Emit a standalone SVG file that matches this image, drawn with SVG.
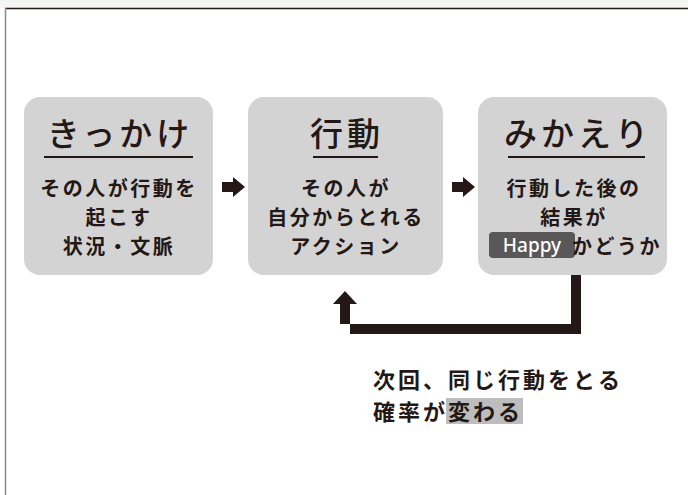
<svg xmlns="http://www.w3.org/2000/svg" width="688" height="495" viewBox="0 0 688 495">
<style>
.box{fill:#d3d3d3}
.t{font-family:"Noto Sans CJK JP","Noto Sans",sans-serif;fill:#231815;text-anchor:middle}
.title{font-size:33px;font-weight:500;letter-spacing:4px}
.body{font-size:20px;font-weight:700;letter-spacing:2.5px}
.cap{font-size:22px;font-weight:700;letter-spacing:3px;text-anchor:start}
.ul{stroke:#231815;stroke-width:2}
.conn{fill:#231815}
</style>
<rect x="0" y="0" width="688" height="8" fill="#f5f5f5"/>
<rect x="5" y="8" width="683" height="487" fill="#ffffff"/>
<line x1="5" y1="8.5" x2="688" y2="8.5" stroke="#231815" stroke-width="1.5"/>
<line x1="5.5" y1="8" x2="5.5" y2="495" stroke="#8a8a8a" stroke-width="1.5"/>

<g id="kikkake">
<rect class="box" x="24" y="97" width="189" height="178" rx="16"/>
<text class="t title" x="120" y="146">きっかけ</text>
<line class="ul" x1="44" y1="157" x2="193" y2="157"/>
<text class="t body" x="119" y="196">その人が行動を</text>
<text class="t body" x="119" y="225">起こす</text>
<text class="t body" x="119" y="254">状況・文脈</text>
</g>

<g id="koudou">
<rect class="box" x="248" y="97" width="195" height="178" rx="16"/>
<text class="t title" x="347" y="146">行動</text>
<line class="ul" x1="313" y1="157" x2="378" y2="157"/>
<text class="t body" x="346" y="196">その人が</text>
<text class="t body" x="346" y="225">自分からとれる</text>
<text class="t body" x="346" y="254">アクション</text>
</g>

<g id="mikaeri">
<rect class="box" x="478" y="97" width="189" height="178" rx="16"/>
<text class="t title" x="578" y="146">みかえり</text>
<line class="ul" x1="508" y1="157" x2="645" y2="157"/>
<text class="t body" x="574" y="196">行動した後の</text>
<text class="t body" x="574" y="225">結果が</text>
<rect x="489" y="232" width="86" height="26" rx="4" fill="#595757"/>
<text x="532" y="252" font-family="'Noto Sans','Liberation Sans',sans-serif" font-size="19" font-weight="500" fill="#ffffff" text-anchor="middle">Happy</text>
<text class="t body" x="617" y="254">かどうか</text>
</g>

<g id="connectors">
<polygon class="conn" points="222,182 233,182 233,177 245,187 233,197 233,192 222,192"/>
<polygon class="conn" points="452,182 463,182 463,177 475,187 463,197 463,192 452,192"/>
<polygon class="conn" points="571,275 581,275 581,334 350,334 350,304 357,304 345,291 333,304 340,304 340,324 571,324"/>
</g>

<g id="caption">
<rect x="446" y="398" width="77" height="26" fill="#bdbdbd"/>
<text class="t cap" x="373" y="388">次回、同じ行動をとる</text>
<text class="t cap" x="373" y="420">確率が変わる</text>
</g>
</svg>
